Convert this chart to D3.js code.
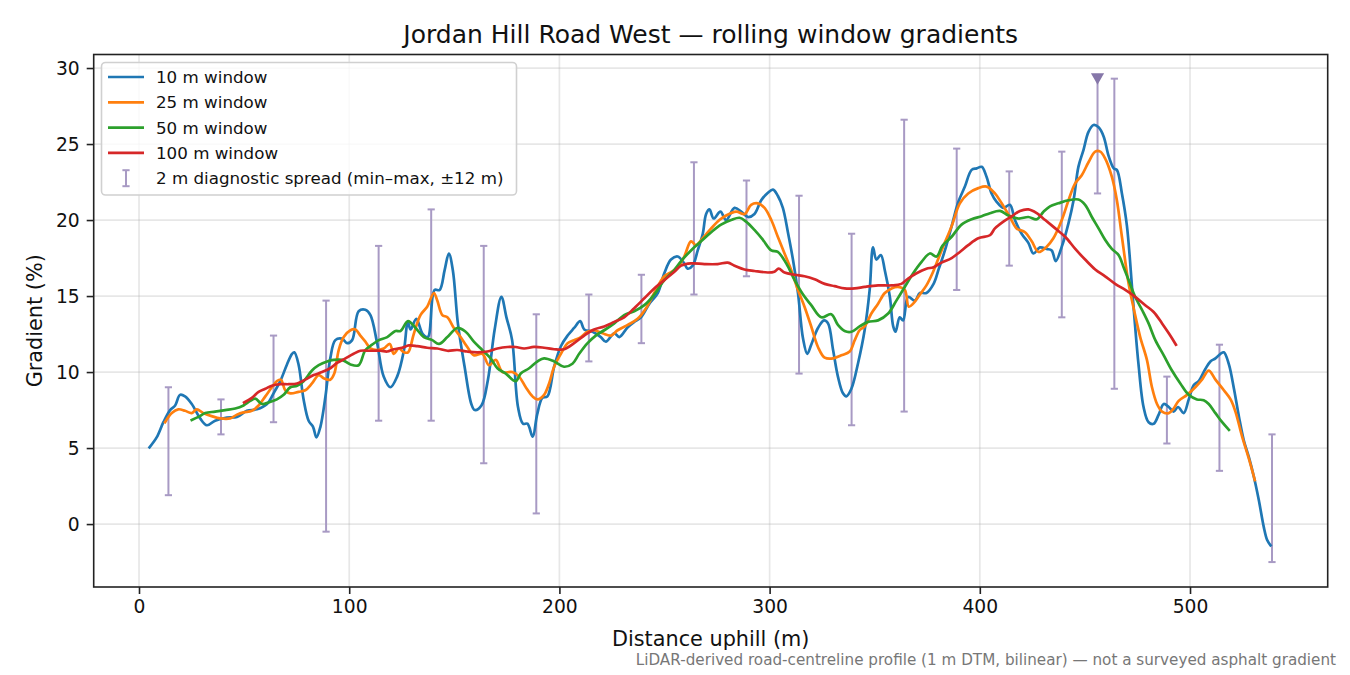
<!DOCTYPE html>
<html>
<head>
<meta charset="utf-8">
<script src="https://cdn.jsdelivr.net/npm/d3@7"></script>
<style>
  body { margin: 0; background: #fff; }
  svg { font-family: "DejaVu Sans", sans-serif; }
</style>
</head>
<body>
<script>
var width = 1350;
var height = 675;

// rolling window gradients, [distance m, gradient %]
var window10 = [[5.0,5.05],[8.4,5.7],[11.6,6.7],[14.8,7.5],[17.2,7.8],[19.5,8.5],[21.9,8.4],[25.1,7.9],[29.1,6.95],[32.3,6.5],[36.2,6.8],[41.8,7.0],[46.6,7.05],[51.3,7.45],[56.1,7.55],[60.9,7.9],[64.0,8.6],[67.2,9.4],[70.4,10.5],[72.8,11.2],[73.9,11.3],[75.9,10.5],[78.3,8.2],[80.7,6.8],[82.8,6.4],[84.4,5.7],[86.3,6.4],[88.7,8.4],[91.0,10.9],[93.4,12.1],[96.6,12.2],[99.0,11.9],[101.4,12.1],[104.5,14.0],[107.7,14.1],[110.1,13.75],[113.3,11.9],[116.4,9.7],[119.6,9.0],[122.8,9.7],[126.0,11.4],[127.9,13.3],[129.2,12.8],[131.9,13.5],[135.0,12.5],[137.4,12.3],[140.6,15.4],[143.0,15.4],[145.4,16.7],[147.4,17.8],[149.3,16.7],[151.7,13.2],[154.9,10.35],[158.1,7.9],[159.7,7.5],[162.9,7.8],[166.0,9.5],[169.2,12.8],[172.4,14.95],[174.8,13.6],[177.5,12.1],[180.3,7.7],[182.7,6.6],[184.8,6.6],[187.3,5.75],[189.4,7.2],[191.9,8.3],[194.3,8.4],[197.5,10.35],[200.7,11.7],[203.9,12.4],[207.0,12.9],[209.9,13.35],[211.8,12.8],[215.8,12.65],[219.7,12.3],[222.1,12.0],[226.1,12.55],[228.5,12.3],[232.5,12.95],[235.6,13.3],[238.8,13.6],[242.8,14.5],[246.8,15.2],[249.9,16.5],[253.1,17.4],[256.3,17.6],[259.4,17.15],[261.0,16.8],[263.4,17.0],[265.8,18.0],[268.2,19.1],[269.8,20.4],[271.4,20.7],[273.4,20.1],[276.6,20.55],[279.3,20.0],[283.3,20.8],[286.5,20.55],[289.7,20.2],[292.8,20.4],[296.0,21.3],[299.2,21.8],[301.6,22.0],[303.9,21.6],[306.3,20.8],[308.7,19.2],[311.1,17.4],[313.5,15.2],[315.9,12.2],[317.9,11.2],[319.8,11.8],[323.0,12.9],[325.9,13.4],[327.8,13.2],[330.2,11.45],[332.5,9.7],[334.9,8.6],[336.5,8.4],[338.9,8.9],[342.1,10.6],[345.2,12.75],[347.6,15.4],[349.2,18.2],[350.8,17.4],[352.9,17.7],[354.8,16.7],[357.2,14.95],[358.8,13.0],[359.9,12.65],[361.9,13.6],[363.5,13.4],[365.9,14.95],[369.1,14.7],[371.5,15.2],[374.6,15.2],[378.0,15.8],[380.5,16.8],[383.4,18.0],[386.6,19.6],[389.8,21.2],[392.9,22.2],[396.1,23.3],[398.5,23.4],[400.9,23.5],[403.2,22.85],[405.6,21.75],[408.0,21.2],[411.2,20.8],[414.3,21.0],[416.7,20.0],[419.9,19.1],[423.1,18.5],[425.5,17.8],[428.6,18.2],[431.8,18.1],[434.2,18.0],[436.1,17.3],[439.0,18.25],[442.2,19.8],[444.6,21.3],[446.9,23.5],[449.3,24.6],[451.7,25.8],[454.1,26.25],[456.5,26.1],[458.9,25.5],[461.3,24.2],[463.7,23.4],[465.2,23.3],[467.6,21.75],[470.0,19.6],[472.4,15.6],[473.6,13.5],[475.5,10.5],[477.9,7.7],[480.3,6.7],[482.7,6.6],[485.1,7.2],[487.5,7.9],[489.9,7.7],[492.2,7.4],[494.3,7.7],[497.0,7.3],[499.4,8.2],[501.8,9.15],[504.1,9.4],[507.3,10.2],[509.7,10.7],[512.1,10.9],[514.5,11.2],[516.1,11.3],[518.5,10.5],[520.9,8.9],[523.3,7.05],[525.6,5.5],[528.0,4.4],[530.4,3.1],[532.7,1.6],[535.1,-0.2],[536.7,-1.05],[538.3,-1.4]];

var window25 = [[12.4,6.7],[15.6,7.3],[18.7,7.55],[21.9,7.45],[25.1,7.3],[27.5,7.55],[30.6,7.3],[34.6,7.1],[38.6,6.95],[43.4,6.95],[46.6,7.2],[49.7,7.35],[53.7,7.45],[56.9,7.8],[60.1,8.4],[63.2,9.0],[65.6,9.4],[67.5,9.5],[69.6,8.8],[72.0,8.6],[75.9,8.7],[79.1,8.8],[82.3,9.25],[85.5,9.8],[87.8,9.6],[91.0,9.5],[92.9,9.9],[95.0,11.45],[97.4,12.3],[100.6,12.75],[103.0,12.8],[105.3,12.4],[107.7,12.0],[110.1,11.55],[113.3,11.45],[116.4,11.55],[119.3,11.85],[121.2,11.2],[123.6,11.55],[126.0,11.3],[128.0,11.3],[130.7,12.5],[133.9,13.75],[137.1,14.3],[140.3,15.2],[141.9,14.7],[144.3,13.75],[146.7,13.6],[149.8,12.9],[153.0,12.3],[156.2,11.65],[159.3,11.1],[163.3,11.2],[166.5,10.45],[169.7,10.8],[172.9,10.0],[177.6,10.0],[180.8,9.7],[184.0,9.0],[187.2,8.4],[189.6,8.2],[192.7,8.5],[195.1,9.25],[197.5,10.35],[200.7,11.2],[203.9,11.9],[207.0,12.1],[210.2,12.3],[213.4,12.65],[216.5,12.75],[220.5,12.55],[224.5,12.4],[227.7,12.75],[232.5,13.1],[237.2,13.5],[241.2,14.2],[245.1,15.2],[249.9,16.3],[253.5,16.6],[256.3,16.9],[259.4,17.6],[262.6,18.6],[265.0,18.35],[268.2,18.8],[272.2,19.45],[276.1,20.0],[279.3,20.3],[284.1,20.55],[288.1,20.4],[291.2,21.0],[294.4,21.1],[297.6,20.8],[300.8,20.0],[303.9,18.9],[307.1,17.8],[310.3,16.7],[313.5,15.4],[316.6,14.3],[319.8,13.0],[323.0,11.65],[326.2,10.95],[330.2,10.9],[334.1,11.1],[338.1,11.35],[340.5,12.1],[342.8,12.75],[345.2,13.0],[348.4,13.85],[351.6,14.5],[354.8,15.2],[358.0,15.5],[361.1,15.6],[364.3,15.4],[366.2,14.3],[368.3,14.5],[371.5,15.1],[374.6,15.7],[377.8,16.6],[381.8,18.0],[386.6,19.6],[390.5,21.1],[394.5,21.75],[399.3,22.1],[403.2,22.2],[407.2,21.75],[410.4,21.1],[414.3,20.2],[417.5,19.45],[421.5,19.2],[424.7,18.6],[427.9,17.9],[431.8,18.25],[435.0,18.8],[439.0,20.0],[442.2,21.3],[445.3,22.4],[448.5,22.95],[451.7,23.8],[454.9,24.5],[457.3,24.5],[459.6,24.05],[462.8,22.85],[465.2,21.3],[467.6,18.9],[470.8,15.8],[473.5,14.0],[476.3,12.3],[479.5,10.8],[481.9,9.0],[484.3,7.9],[486.7,7.4],[489.9,7.3],[492.2,7.6],[494.6,8.1],[498.6,8.5],[502.5,9.0],[505.7,9.5],[508.9,10.1],[512.1,9.5],[516.1,8.8],[519.3,8.2],[521.6,7.4],[524.8,5.75],[528.0,4.3],[530.8,2.9]];

var window50 = [[25.1,6.85],[28.3,7.05],[31.5,7.3],[36.2,7.4],[41.0,7.5],[45.8,7.6],[49.7,7.8],[52.9,8.1],[55.3,8.25],[58.5,7.9],[61.6,8.0],[65.6,8.2],[68.8,8.5],[72.0,9.0],[75.2,9.1],[78.3,9.4],[82.3,10.1],[85.5,10.45],[89.5,10.7],[92.6,10.8],[96.6,10.8],[100.6,10.5],[104.5,10.45],[107.7,11.45],[110.9,11.8],[114.1,12.1],[118.1,12.3],[122.0,12.7],[124.4,12.7],[128.0,13.35],[131.6,12.9],[135.5,12.3],[139.5,12.1],[142.7,11.85],[146.7,12.3],[151.4,12.9],[155.4,12.65],[159.3,12.0],[163.3,11.45],[167.3,10.9],[170.5,10.25],[174.5,9.9],[179.2,9.4],[181.6,9.9],[185.6,10.25],[189.6,10.7],[192.7,10.9],[197.5,10.7],[202.2,10.35],[206.2,10.55],[209.4,11.2],[213.4,11.9],[217.3,12.4],[221.3,12.75],[226.1,13.2],[230.8,13.75],[235.6,14.0],[240.4,14.4],[245.1,15.1],[249.9,16.05],[253.9,16.6],[257.9,17.3],[262.6,18.0],[267.4,18.6],[272.2,19.2],[276.9,19.7],[281.7,20.0],[285.7,20.15],[288.8,19.9],[292.8,19.35],[296.8,18.7],[300.8,18.0],[303.9,17.9],[307.9,17.15],[311.9,16.05],[315.9,15.1],[319.8,14.4],[324.6,13.6],[329.3,13.8],[332.5,13.1],[335.7,12.7],[338.9,12.65],[342.8,13.0],[346.8,13.3],[351.6,13.4],[356.4,13.85],[360.3,14.7],[364.3,15.6],[368.3,16.5],[372.3,17.25],[376.2,17.8],[379.4,17.6],[382.2,18.3],[386.6,18.9],[391.3,19.7],[396.1,20.05],[400.9,20.25],[404.8,20.45],[409.6,20.6],[413.6,20.3],[418.4,20.1],[423.1,20.2],[427.1,20.05],[430.3,20.55],[433.4,20.9],[437.4,21.1],[442.2,21.3],[446.9,21.35],[450.1,21.0],[453.3,20.2],[456.5,19.45],[459.6,18.7],[462.8,18.1],[466.0,17.7],[468.4,16.9],[470.8,16.05],[473.9,14.95],[477.5,14.0],[480.3,13.2],[483.5,12.1],[487.5,11.1],[491.4,10.1],[495.4,9.25],[499.4,8.5],[503.3,8.2],[506.5,8.15],[508.9,7.9],[512.1,7.3],[515.3,6.7],[518.5,6.2]];

var window100 = [[50.0,8.0],[53.7,8.3],[56.9,8.7],[60.1,8.9],[63.2,9.1],[67.2,9.2],[71.2,9.2],[75.2,9.25],[79.1,9.5],[83.1,9.8],[87.1,10.0],[91.0,10.25],[94.2,10.6],[98.2,10.9],[102.1,11.2],[105.3,11.4],[110.1,11.4],[114.9,11.4],[118.1,11.35],[121.2,11.5],[125.2,11.6],[128.4,11.75],[132.4,11.7],[137.1,11.6],[141.9,11.55],[146.7,11.4],[151.4,11.45],[156.2,11.35],[161.0,11.3],[165.7,11.35],[170.5,11.55],[175.3,11.65],[179.2,11.65],[183.2,11.55],[187.9,11.65],[192.7,11.6],[197.5,11.5],[202.2,11.5],[207.0,11.9],[211.8,12.4],[216.5,12.8],[221.3,13.0],[226.1,13.3],[230.8,13.6],[235.6,14.2],[240.4,14.85],[245.1,15.5],[249.9,16.05],[254.7,16.6],[257.9,17.0],[262.6,17.15],[269.0,17.1],[275.3,17.1],[280.1,17.2],[283.3,17.0],[288.0,16.75],[292.8,16.65],[299.2,16.55],[302.3,16.6],[304.3,16.8],[307.1,16.55],[311.9,16.4],[316.6,16.3],[321.4,16.1],[326.2,15.8],[330.9,15.65],[335.7,15.5],[340.5,15.5],[345.2,15.6],[351.6,15.7],[358.0,15.7],[362.7,15.8],[365.9,16.15],[369.9,16.5],[374.6,16.8],[378.0,16.9],[381.8,17.2],[386.6,17.5],[390.5,17.9],[394.5,18.35],[399.3,18.8],[404.8,19.0],[407.2,19.45],[411.2,19.9],[415.2,20.25],[419.1,20.6],[423.1,20.7],[427.1,20.45],[431.1,20.0],[435.9,19.45],[440.6,18.9],[445.4,18.1],[450.1,17.4],[454.9,16.75],[459.6,16.3],[464.4,15.8],[469.2,15.4],[473.9,14.95],[478.7,14.4],[482.7,13.95],[486.7,13.2],[489.9,12.55],[493.3,11.8]];

// 2 m diagnostic spread (min–max over ±12 m)
var spreadDist = [14, 39, 64, 89, 114, 139, 164, 189, 214, 239, 264, 289, 314, 339, 364, 389, 414, 439, 456, 464, 489, 514, 539];
var spreadMin  = [1.9, 5.9, 6.7, -0.5, 6.8, 6.8, 4.0, 0.7, 10.7, 11.9, 15.1, 16.3, 9.9, 6.5, 7.4, 15.4, 17.0, 13.6, 21.75, 8.9, 5.3, 3.5, -2.5];
var spreadMax  = [9.0, 8.2, 12.4, 14.7, 18.3, 20.7, 18.3, 13.8, 15.1, 16.4, 23.8, 22.6, 21.6, 19.1, 26.6, 24.7, 23.2, 24.5, 29.4, 29.3, 9.7, 11.8, 5.9];
var peakPoint = [456, 29.4];

var seriesNames = ["10 m window", "25 m window", "50 m window", "100 m window"];
var seriesColors = ["#1f77b4", "#ff7f0e", "#2ca02c", "#d62728"];
var xTicks = [0, 100, 200, 300, 400, 500];
var yTicks = [0, 5, 10, 15, 20, 25, 30];

var plotLeft = 93.7, plotRight = 1327.7, plotTop = 54.5, plotBottom = 587;

var svg = d3.select("body").append("svg")
    .attr("width", width)
    .attr("height", height);

var x = d3.scaleLinear().domain([-21.55, 565.5]).range([plotLeft, plotRight]);
var y = d3.scaleLinear().domain([-4.14, 30.89]).range([plotBottom, plotTop]);

// grid
svg.append("g").selectAll("line.gx")
    .data(xTicks).enter().append("line")
    .attr("x1", function (d) { return x(d); })
    .attr("x2", function (d) { return x(d); })
    .attr("y1", plotTop).attr("y2", plotBottom)
    .attr("stroke", "#b0b0b0").attr("stroke-opacity", 0.3).attr("stroke-width", 1.7);
svg.append("g").selectAll("line.gy")
    .data(yTicks).enter().append("line")
    .attr("x1", plotLeft).attr("x2", plotRight)
    .attr("y1", function (d) { return y(d); })
    .attr("y2", function (d) { return y(d); })
    .attr("stroke", "#b0b0b0").attr("stroke-opacity", 0.3).attr("stroke-width", 1.7);

// error bars
var spreadColor = "#a89ac4";
var spread = svg.append("g");
spreadDist.forEach(function (d, i) {
    var cx = x(d);
    spread.append("line")
        .attr("x1", cx).attr("x2", cx)
        .attr("y1", y(spreadMin[i])).attr("y2", y(spreadMax[i]))
        .attr("stroke", spreadColor).attr("stroke-width", 2);
    [spreadMin[i], spreadMax[i]].forEach(function (v) {
        spread.append("line")
            .attr("x1", cx - 3.6).attr("x2", cx + 3.6)
            .attr("y1", y(v)).attr("y2", y(v))
            .attr("stroke", spreadColor).attr("stroke-width", 2);
    });
});

// lines
var line = d3.line()
    .x(function (d) { return x(d[0]); })
    .y(function (d) { return y(d[1]); })
    .curve(d3.curveCatmullRom.alpha(0.5));

[window10, window25, window50, window100].forEach(function (s, i) {
    svg.append("path")
        .datum(s)
        .attr("d", line)
        .attr("fill", "none")
        .attr("stroke", seriesColors[i])
        .attr("stroke-width", 2.7)
        .attr("stroke-linejoin", "round")
        .attr("stroke-linecap", "square");
});

// peak marker
svg.append("path")
    .attr("d", d3.symbol().type(d3.symbolTriangle).size(75))
    .attr("transform", "translate(" + x(peakPoint[0]) + "," + y(peakPoint[1]) + ") rotate(180)")
    .attr("fill", "#8677a9");

// frame
svg.append("rect")
    .attr("x", plotLeft).attr("y", plotTop)
    .attr("width", plotRight - plotLeft).attr("height", plotBottom - plotTop)
    .attr("fill", "none").attr("stroke", "#222").attr("stroke-width", 1.6);

// axes
var xAxis = svg.append("g")
    .attr("transform", "translate(0," + plotBottom + ")")
    .call(d3.axisBottom(x).tickValues(xTicks).tickSize(7).tickPadding(6));
var yAxis = svg.append("g")
    .attr("transform", "translate(" + plotLeft + ",0)")
    .call(d3.axisLeft(y).tickValues(yTicks).tickSize(7).tickPadding(7));
[xAxis, yAxis].forEach(function (a) {
    a.select(".domain").remove();
    a.selectAll(".tick line").attr("stroke", "#222").attr("stroke-width", 1.6);
    a.selectAll(".tick text")
        .attr("fill", "#111")
        .style("font-family", "DejaVu Sans")
        .style("font-size", "18.7px");
});

// title and labels
svg.append("text")
    .attr("x", (plotLeft + plotRight) / 2).attr("y", 43)
    .attr("text-anchor", "middle")
    .style("font-size", "25px").attr("fill", "#111")
    .text("Jordan Hill Road West \u2014 rolling window gradients");

svg.append("text")
    .attr("x", (plotLeft + plotRight) / 2).attr("y", 646)
    .attr("text-anchor", "middle")
    .style("font-size", "20.8px").attr("fill", "#111")
    .text("Distance uphill (m)");

svg.append("text")
    .attr("transform", "translate(42," + (plotTop + plotBottom) / 2 + ") rotate(-90)")
    .attr("text-anchor", "middle")
    .style("font-size", "20.8px").attr("fill", "#111")
    .text("Gradient (%)");

svg.append("text")
    .attr("x", 1336).attr("y", 665)
    .attr("text-anchor", "end")
    .style("font-size", "15.2px").attr("fill", "#777")
    .text("LiDAR-derived road-centreline profile (1 m DTM, bilinear) \u2014 not a surveyed asphalt gradient");

// legend
var legend = svg.append("g");
legend.append("rect")
    .attr("x", 101.5).attr("y", 62.5)
    .attr("width", 415).attr("height", 132.5)
    .attr("rx", 4)
    .attr("fill", "#fff").attr("fill-opacity", 0.8)
    .attr("stroke", "#d0d0d0").attr("stroke-width", 1.6);

var rowY = [77, 102.3, 127.6, 152.9, 178.2];
seriesNames.forEach(function (name, i) {
    legend.append("line")
        .attr("x1", 108).attr("x2", 144)
        .attr("y1", rowY[i]).attr("y2", rowY[i])
        .attr("stroke", seriesColors[i]).attr("stroke-width", 2.7);
    legend.append("text")
        .attr("x", 156).attr("y", rowY[i])
        .attr("dominant-baseline", "central")
        .style("font-size", "16.7px").attr("fill", "#111")
        .text(name);
});
var ly = rowY[4];
legend.append("line")
    .attr("x1", 126).attr("x2", 126).attr("y1", ly - 8).attr("y2", ly + 8)
    .attr("stroke", spreadColor).attr("stroke-width", 2);
[ly - 8, ly + 8].forEach(function (v) {
    legend.append("line")
        .attr("x1", 122.4).attr("x2", 129.6).attr("y1", v).attr("y2", v)
        .attr("stroke", spreadColor).attr("stroke-width", 2);
});
legend.append("text")
    .attr("x", 156).attr("y", ly)
    .attr("dominant-baseline", "central")
    .style("font-size", "16.7px").attr("fill", "#111")
    .text("2 m diagnostic spread (min\u2013max, \u00b112 m)");
</script>
</body>
</html>
